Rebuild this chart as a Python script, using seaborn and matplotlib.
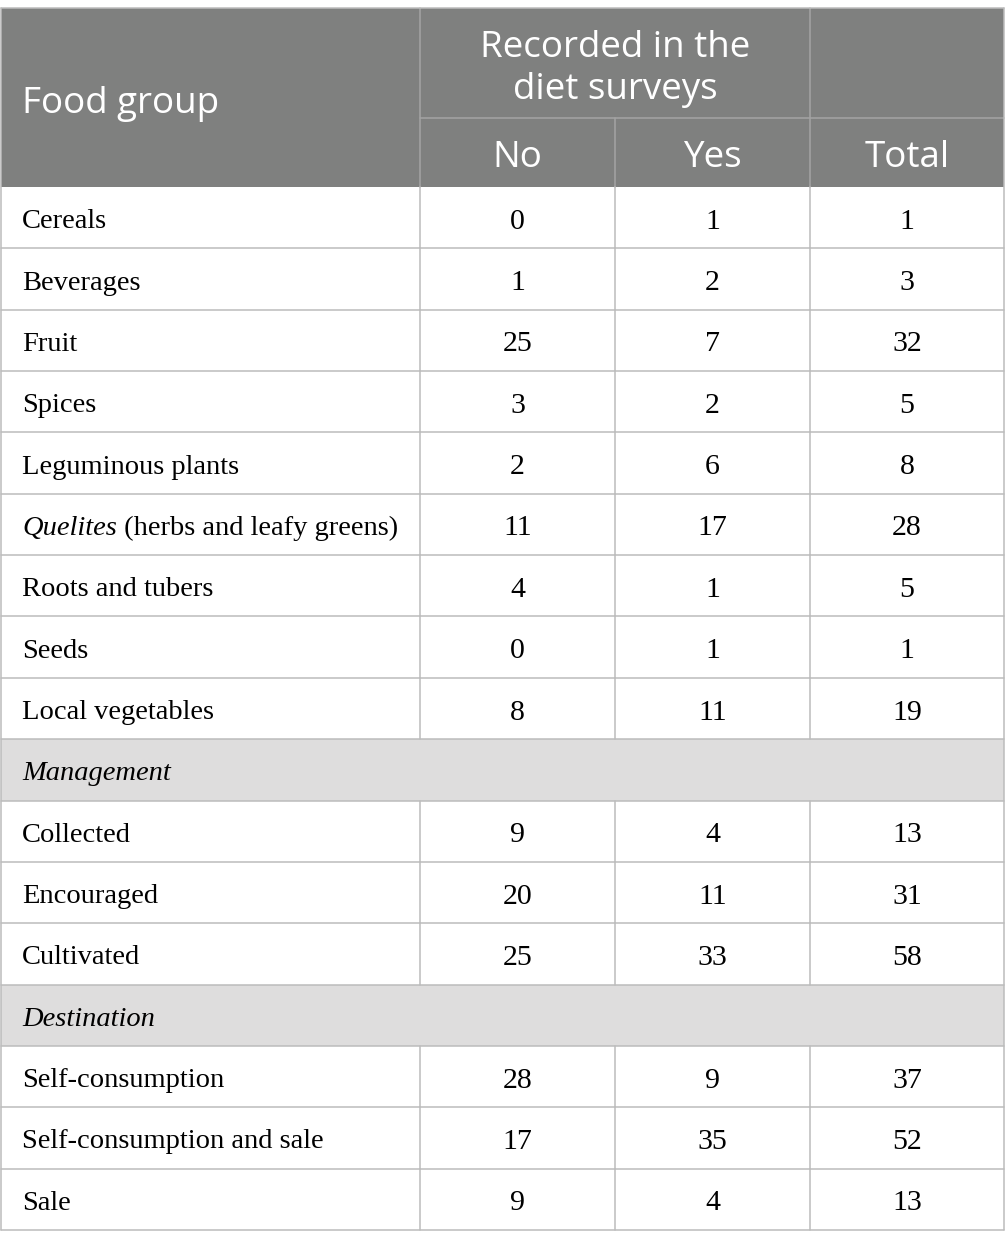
import matplotlib.pyplot as plt
import seaborn as sns

sns.set_theme(style="white")

# table content
food_groups = ["Cereals", "Beverages", "Fruit", "Spices", "Leguminous plants",
               "Quelites", "Roots and tubers", "Seeds", "Local vegetables"]
food_no = [0, 1, 25, 3, 2, 11, 4, 0, 8]
food_yes = [1, 2, 7, 2, 6, 17, 1, 1, 11]
food_total = [1, 3, 32, 5, 8, 28, 5, 1, 19]

management = ["Collected", "Encouraged", "Cultivated"]
mgmt_no = [9, 20, 25]
mgmt_yes = [4, 11, 33]
mgmt_total = [13, 31, 58]

destination = ["Self-consumption", "Self-consumption and sale", "Sale"]
dest_no = [28, 17, 9]
dest_yes = [9, 35, 4]
dest_total = [37, 52, 13]

header_left = "Food group"
header_span = "Recorded in the\ndiet surveys"
header_cols = ["No", "Yes", "Total"]
quelites_note = " (herbs and leafy greens)"

# layout (pixels)
W, H = 1005, 1249
col_edges = [1, 420, 615, 810, 1004]
top, head_mid, head_bot = 8, 118, 187
row_h = (1230 - head_bot) / 17

HEAD_BG = "#7f807f"
SECT_BG = "#dedddd"
LINE = "#bcbcbc"
HEAD_LINE = "#a4a4a4"

fig = plt.figure(figsize=(W / 100, H / 100), dpi=100)
ax = fig.add_axes([0, 0, 1, 1])
ax.set_xlim(0, W)
ax.set_ylim(H, 0)
ax.axis("off")

sans = "Open Sans"
serif = "Liberation Serif"
hfs, bfs = 26.5, 20.5

# header
ax.add_patch(plt.Rectangle((col_edges[0], top), col_edges[-1] - col_edges[0],
                           head_bot - top, color=HEAD_BG, lw=0))
ax.plot([col_edges[1], col_edges[1]], [top, head_bot], color=HEAD_LINE, lw=1.1)
ax.plot([col_edges[3], col_edges[3]], [top, head_bot], color=HEAD_LINE, lw=1.1)
ax.plot([col_edges[2], col_edges[2]], [head_mid, head_bot], color=HEAD_LINE, lw=1.1)
ax.plot([col_edges[1], col_edges[-1]], [head_mid, head_mid], color=HEAD_LINE, lw=1.1)
ax.text(22, (top + head_bot) / 2 + 6, header_left, color="white", fontsize=hfs,
        family=sans, va="center", ha="left")
ax.text((col_edges[1] + col_edges[3]) / 2, (top + head_mid) / 2 + 6, header_span,
        color="white", fontsize=hfs, family=sans, va="center", ha="center",
        linespacing=1.2)
for i, lab in enumerate(header_cols):
    ax.text((col_edges[i + 1] + col_edges[i + 2]) / 2, (head_mid + head_bot) / 2 + 5,
            lab, color="white", fontsize=hfs, family=sans, va="center", ha="center")

# body rows
rows = []
for g, a, b, c in zip(food_groups, food_no, food_yes, food_total):
    rows.append(("data", g, a, b, c))
rows.append(("section", "Management"))
for g, a, b, c in zip(management, mgmt_no, mgmt_yes, mgmt_total):
    rows.append(("data", g, a, b, c))
rows.append(("section", "Destination"))
for g, a, b, c in zip(destination, dest_no, dest_yes, dest_total):
    rows.append(("data", g, a, b, c))

renderer = fig.canvas.get_renderer()
for r, row in enumerate(rows):
    y0 = head_bot + r * row_h
    y1 = y0 + row_h
    yc = (y0 + y1) / 2 + 4
    if row[0] == "section":
        ax.add_patch(plt.Rectangle((col_edges[0], y0), col_edges[-1] - col_edges[0],
                                   row_h, color=SECT_BG, lw=0))
        ax.text(22, yc, row[1], fontsize=bfs, family=serif, style="italic",
                va="center", ha="left", color="black")
    else:
        for x in col_edges[1:-1]:
            ax.plot([x, x], [y0, y1], color=LINE, lw=1.1)
        if row[1] == "Quelites":
            t = ax.text(22, yc, row[1], fontsize=bfs, family=serif, style="italic",
                        va="center", ha="left", color="black")
            bb = t.get_window_extent(renderer=renderer)
            ax.text(22 + bb.width, yc, quelites_note, fontsize=bfs, family=serif,
                    va="center", ha="left", color="black")
        else:
            ax.text(22, yc, row[1], fontsize=bfs, family=serif, va="center",
                    ha="left", color="black")
        for i, v in enumerate(row[2:]):
            ax.text((col_edges[i + 1] + col_edges[i + 2]) / 2, yc, str(v),
                    fontsize=bfs + 1, family=serif, va="center", ha="center",
                    color="black")
    ax.plot([col_edges[0], col_edges[-1]], [y1, y1], color=LINE, lw=1.1)

# outer border
ax.plot([col_edges[0], col_edges[0]], [top, 1230], color=LINE, lw=1.1)
ax.plot([col_edges[-1], col_edges[-1]], [top, 1230], color=LINE, lw=1.1)
ax.plot([col_edges[0], col_edges[-1]], [top, top], color=LINE, lw=1.1)

fig.savefig("out.png", dpi=100)
